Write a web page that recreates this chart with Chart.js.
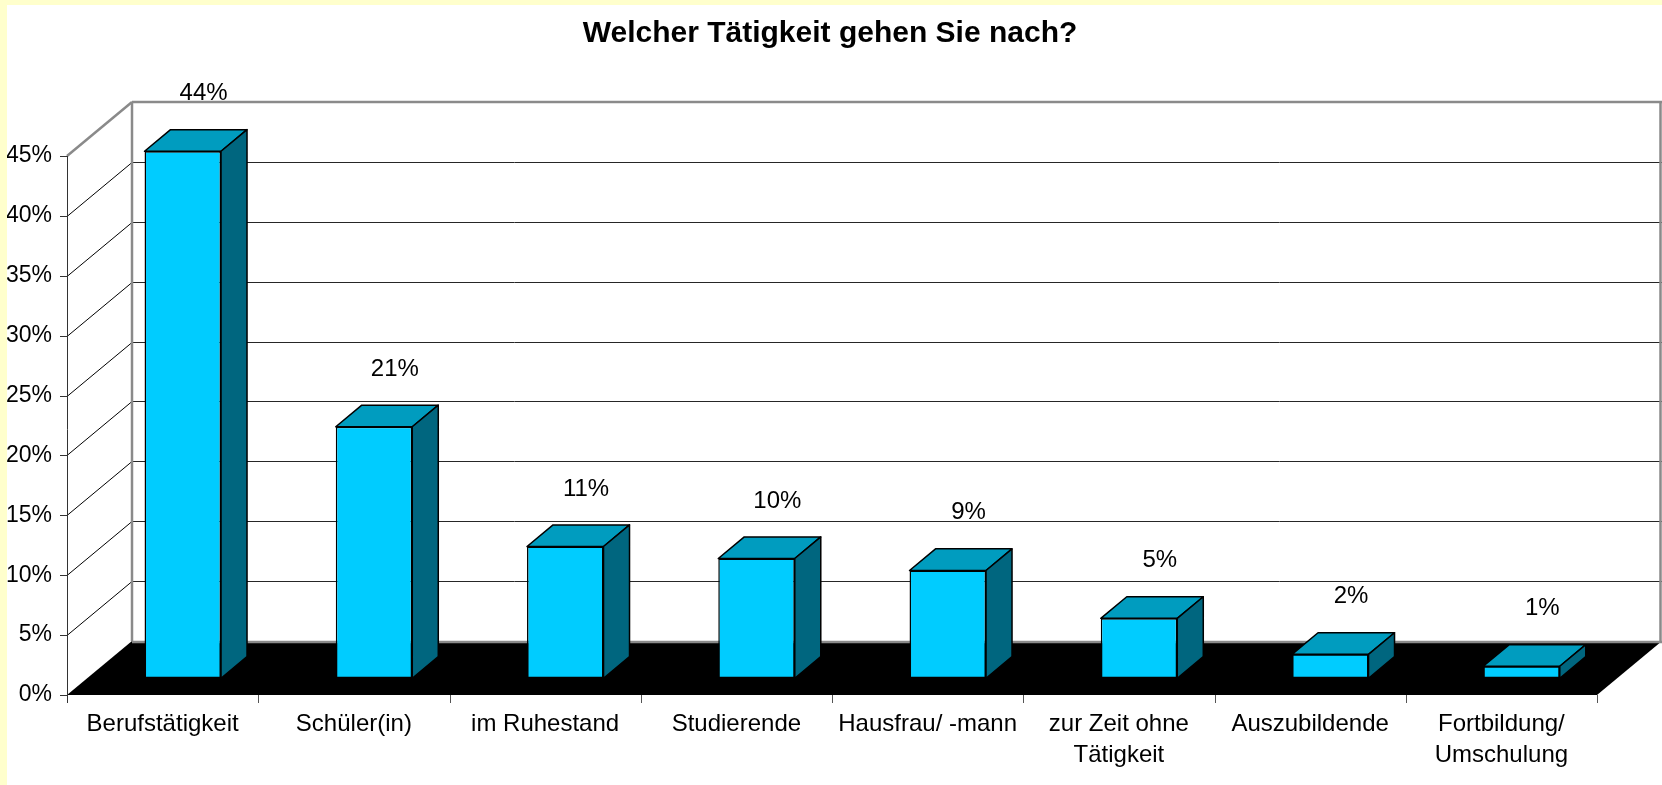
<!DOCTYPE html>
<html>
<head>
<meta charset="utf-8">
<script src="https://cdn.jsdelivr.net/npm/chart.js@4.4.1/dist/chart.umd.min.js"></script>
<style>
  html, body { margin: 0; padding: 0; background: #ffffcc; overflow: hidden; }
  #wrap { position: absolute; left: 7px; top: 5px; width: 1655px; height: 780px; background: #fff; }
</style>
</head>
<body>
<div id="wrap"><canvas id="chart" width="1655" height="780"></canvas></div>
<script>
// data
var categories = ['Berufstätigkeit', 'Schüler(in)', 'im Ruhestand', 'Studierende', 'Hausfrau/ -mann',
  ['zur Zeit ohne', 'Tätigkeit'], 'Auszubildende', ['Fortbildung/', 'Umschulung']];
var shares = [44, 21, 11, 10, 9, 5, 2, 1];
var yTicks = [0, 5, 10, 15, 20, 25, 30, 35, 40, 45];
var yTickLabels = ['0%', '5%', '10%', '15%', '20%', '25%', '30%', '35%', '40%', '45%'];

// 3d look
var DX = 65, DY = -54;          // depth of floor / side wall
var BAR_FRONT = 0.31, BAR_BACK = 0.71;
var FRONT = '#00ccff', TOP = '#009cbf', SIDE = '#00667f';

Chart.defaults.font.family = "'Liberation Sans', Arial, sans-serif";
Chart.defaults.color = '#000';

function line(ctx, x1, y1, x2, y2, color, w) {
  ctx.strokeStyle = color;
  ctx.lineWidth = w;
  ctx.beginPath();
  ctx.moveTo(x1, y1);
  ctx.lineTo(x2, y2);
  ctx.stroke();
}

function poly(ctx, pts, fill) {
  ctx.beginPath();
  ctx.moveTo(pts[0][0], pts[0][1]);
  for (var i = 1; i < pts.length; i++) ctx.lineTo(pts[i][0], pts[i][1]);
  ctx.closePath();
  ctx.fillStyle = fill;
  ctx.fill();
  ctx.strokeStyle = '#000';
  ctx.lineWidth = 1.5;
  ctx.lineJoin = 'round';
  ctx.stroke();
}

var box3d = {
  id: 'box3d',
  afterLayout: function (chart) {
    // centre the title over the whole canvas, not only the plot
    if (chart.titleBlock) {
      chart.titleBlock.left = 0;
      chart.titleBlock.right = chart.width - 9;
    }
  },
  beforeDatasetsDraw: function (chart) {
    var ctx = chart.ctx, a = chart.chartArea, ys = chart.scales.y;
    var L = a.left, R = a.right, T = a.top, B = a.bottom;
    ctx.save();
    // floor
    ctx.fillStyle = '#000';
    ctx.beginPath();
    ctx.moveTo(L, B); ctx.lineTo(R, B); ctx.lineTo(R + DX, B + DY); ctx.lineTo(L + DX, B + DY);
    ctx.closePath();
    ctx.fill();
    // grid on back wall and side wall
    yTicks.forEach(function (v) {
      if (v === yTicks[0] || v === yTicks[yTicks.length - 1]) return;
      var y = Math.round(ys.getPixelForValue(v)) + 0.5;
      line(ctx, L + DX, y + DY, R + DX, y + DY, '#262626', 1);
      line(ctx, L, y, L + DX, y + DY, '#000', 1);
    });
    // wall borders
    line(ctx, L, T, L + DX, T + DY, '#8a8a8a', 2.5);
    line(ctx, L + DX, T + DY, R + DX, T + DY, '#8a8a8a', 2.5);
    line(ctx, L + DX, T + DY, L + DX, B + DY, '#8a8a8a', 2.5);
    line(ctx, R + DX - 1.5, T + DY, R + DX - 1.5, B + DY, '#8a8a8a', 2.5);
    line(ctx, L + DX, B + DY + 1, R + DX, B + DY + 1, '#8a8a8a', 2.5);
    // value axis + ticks
    line(ctx, L + 0.5, T, L + 0.5, B + 8, '#333', 1);
    yTicks.forEach(function (v) {
      var y = Math.round(ys.getPixelForValue(v)) + 0.5;
      line(ctx, L - 7, y, L, y, '#333', 1);
    });
    // category ticks
    var cw = (R - L) / categories.length;
    for (var i = 1; i <= categories.length; i++) {
      var x = Math.round(L + i * cw) + 0.5;
      line(ctx, x, B, x, B + 8, '#555', 1);
    }
    ctx.restore();
    // bars are drawn on the plane at BAR_FRONT depth
    ctx.save();
    ctx.translate(DX * BAR_FRONT, DY * BAR_FRONT);
  },
  afterDatasetsDraw: function (chart) {
    var ctx = chart.ctx;
    ctx.restore();
    var ox = DX * BAR_FRONT, oy = DY * BAR_FRONT;
    var bx = DX * (BAR_BACK - BAR_FRONT), by = DY * (BAR_BACK - BAR_FRONT);
    ctx.save();
    chart.getDatasetMeta(0).data.forEach(function (bar, i) {
      var p = bar.getProps(['x', 'y', 'base', 'width'], true);
      var x0 = p.x - p.width / 2 + ox, x1 = p.x + p.width / 2 + ox;
      var yt = p.y + oy, yb = p.base + oy;
      poly(ctx, [[x0, yt], [x1, yt], [x1 + bx, yt + by], [x0 + bx, yt + by]], TOP);
      poly(ctx, [[x1, yt], [x1 + bx, yt + by], [x1 + bx, yb + by], [x1, yb]], SIDE);
      ctx.fillStyle = '#000';
      ctx.font = "24px 'Liberation Sans', Arial, sans-serif";
      ctx.textAlign = 'center';
      ctx.textBaseline = 'middle';
      ctx.fillText(shares[i] + '%', p.x + ox + bx * 0.8, yt + by - 36);
    });
    ctx.restore();
  }
};

new Chart(document.getElementById('chart'), {
  type: 'bar',
  data: {
    labels: categories,
    datasets: [{
      data: shares,
      backgroundColor: FRONT,
      borderColor: '#000',
      borderWidth: 1.5,
      borderSkipped: false,
      barPercentage: 0.4,
      categoryPercentage: 1,
      clip: false
    }]
  },
  options: {
    responsive: false,
    animation: false,
    layout: { padding: { left: 0, right: 65, top: 0, bottom: 0 } },
    plugins: {
      legend: { display: false },
      tooltip: { enabled: false },
      title: {
        display: true,
        text: 'Welcher Tätigkeit gehen Sie nach?',
        font: { size: 30, weight: 'bold' },
        color: '#000',
        padding: { top: 11, bottom: 104 }
      }
    },
    scales: {
      x: {
        grid: { display: false, drawTicks: false },
        border: { display: false },
        ticks: { font: { size: 24, lineHeight: 1.3 }, padding: 14, maxRotation: 0, minRotation: 0, autoSkip: false },
        afterFit: function (s) { s.height = 90; }
      },
      y: {
        min: 0,
        max: 45,
        grid: { display: false, drawTicks: false },
        border: { display: false },
        ticks: {
          stepSize: 5,
          padding: 15,
          font: { size: 23 },
          callback: function (v) { return yTickLabels[yTicks.indexOf(v)]; }
        },
        afterFit: function (s) { s.width = 60; }
      }
    }
  },
  plugins: [box3d]
});
</script>
</body>
</html>
